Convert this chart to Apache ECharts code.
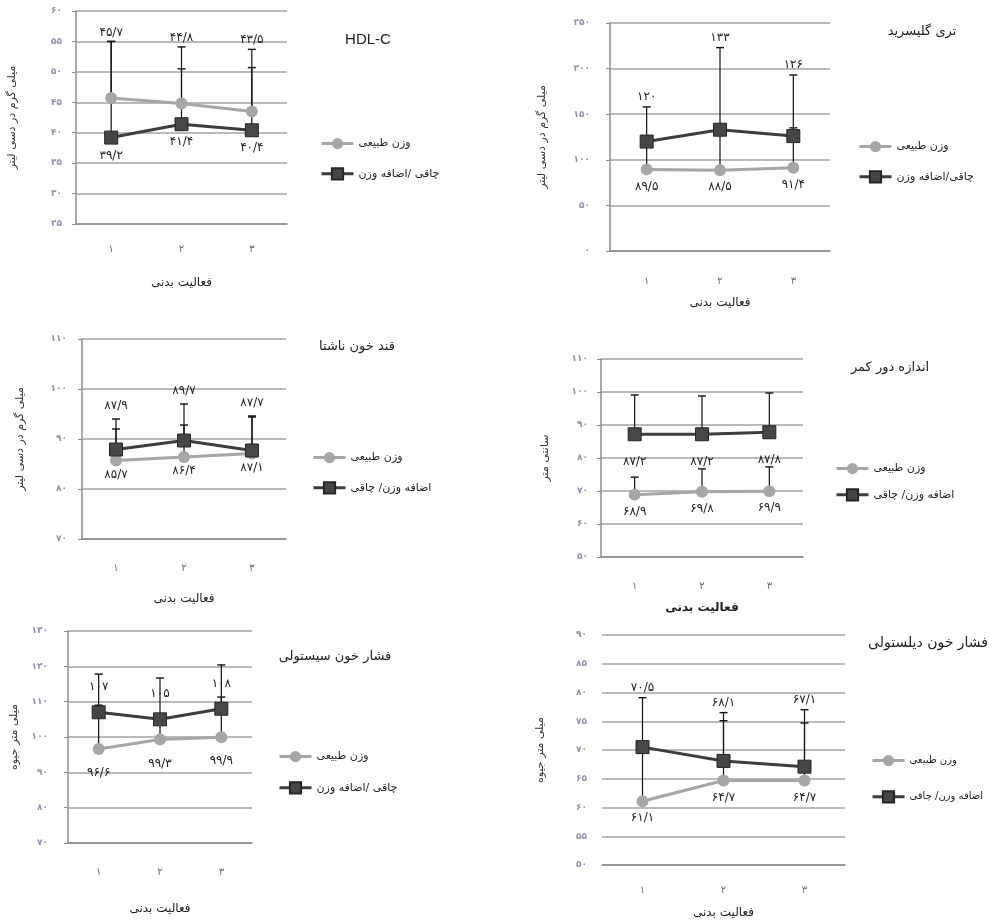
<!doctype html>
<html>
<head>
<meta charset="utf-8">
<title>Physical activity charts</title>
<style>
html, body { margin: 0; background: #fff; }
#main { width: 989px; height: 920px; }
</style>
</head>
<body>
<div id="main"></div>
<script src="https://cdn.jsdelivr.net/npm/echarts@6/dist/echarts.min.js"></script>
<script>
// categories (physical activity level)
var categories = ['۱', '۲', '۳'];
var normalName = 'وزن طبیعی';

// HDL-C
var hdlNormal = [45.7, 44.8, 43.5];
var hdlNormalSd = [9.3, 9.3, 10.2];
var hdlObese = [39.2, 41.4, 40.4];
var hdlObeseSd = [15.8, 9.1, 10.3];

// triglyceride
var tgNormal = [89.5, 88.5, 91.4];
var tgNormalSd = [30, 44, 43.6];
var tgObese = [120, 133, 126];
var tgObeseSd = [38, 90, 67];

// fasting blood sugar
var fbsNormal = [85.7, 86.4, 87.1];
var fbsNormalSd = [6.3, 6.4, 7.3];
var fbsObese = [87.9, 89.7, 87.7];
var fbsObeseSd = [6.1, 7.3, 6.9];

// waist
var waistNormal = [68.9, 69.8, 69.9];
var waistNormalSd = [5.3, 6.9, 7.4];
var waistObese = [87.2, 87.2, 87.8];
var waistObeseSd = [11.9, 11.6, 11.9];

// systolic
var sbpNormal = [96.6, 99.3, 99.9];
var sbpNormalSd = [12.4, 5.5, 11.4];
var sbpObese = [107, 105, 108];
var sbpObeseSd = [10.8, 11.7, 12.4];

// diastolic
var dbpNormal = [61.1, 64.7, 64.7];
var dbpNormalSd = [9.4, 10.4, 10];
var dbpObese = [70.5, 68.1, 67.1];
var dbpObeseSd = [8.6, 8.4, 9.9];

var faFont = '"DejaVu Sans", "Noto Sans", sans-serif';

function toFa(v) {
    return String(v).replace('.', '/').replace(/[0-9]/g, function (d) {
        return '۰۱۲۳۴۵۶۷۸۹'.charAt(+d);
    });
}

var panels = [
    {
        title: 'HDL-C', titleX: 368, titleY: 40, titleFont: '15px "Liberation Sans", sans-serif',
        normal: hdlNormal, normalSd: hdlNormalSd, obese: hdlObese, obeseSd: hdlObeseSd,
        obeseName: 'چاقی /اضافه وزن', yName: 'میلی گرم در دسی لیتر',
        min: 25, max: 60, interval: 5,
        grid: { left: 76, top: 11, width: 211, height: 213 },
        yNameGap: 58, yLabelMargin: 14, xLabelMargin: 20, xNameGap: 53,
        legendLeft: 315, legendTop: 133, legendGap: 18, legendFont: 11,
        normalLabel: ['cap', -9], obeseLabel: ['point', 18]
    },
    {
        title: 'تری گلیسرید', titleX: 922, titleY: 32, titleFont: '13px ' + faFont,
        normal: tgNormal, normalSd: tgNormalSd, obese: tgObese, obeseSd: tgObeseSd,
        obeseName: 'چاقی/اضافه وزن', yName: 'میلی گرم در دسی لیتر',
        min: 0, max: 250, interval: 50,
        grid: { left: 610, top: 23, width: 220, height: 228 },
        yNameGap: 62, yLabelMargin: 20, xLabelMargin: 25, xNameGap: 46,
        legendLeft: 853, legendTop: 136, legendGap: 18, legendFont: 11,
        normalLabel: ['point', 17], obeseLabel: ['cap', -10]
    },
    {
        title: 'قند خون ناشتا', titleX: 357, titleY: 347, titleFont: '13px ' + faFont,
        normal: fbsNormal, normalSd: fbsNormalSd, obese: fbsObese, obeseSd: fbsObeseSd,
        obeseName: 'اضافه وزن/ چاقی', yName: 'میلی گرم در دسی لیتر',
        min: 70, max: 110, interval: 10,
        grid: { left: 82, top: 339, width: 204, height: 200 },
        yNameGap: 56, yLabelMargin: 15, xLabelMargin: 24, xNameGap: 54,
        legendLeft: 307, legendTop: 447, legendGap: 18, legendFont: 11,
        normalLabel: ['point', 14], obeseLabel: ['cap', -13]
    },
    {
        title: 'اندازه دور کمر', titleX: 890, titleY: 368, titleFont: '13px ' + faFont,
        normal: waistNormal, normalSd: waistNormalSd, obese: waistObese, obeseSd: waistObeseSd,
        obeseName: 'اضافه وزن/ چاقی', yName: 'سانتی متر',
        min: 50, max: 110, interval: 10,
        grid: { left: 601, top: 359, width: 202, height: 198 },
        yNameGap: 50, yLabelMargin: 13, xLabelMargin: 24, xNameGap: 45, xNameBold: true,
        legendLeft: 830, legendTop: 458, legendGap: 14, legendFont: 11,
        normalLabel: ['point', 17], obeseLabel: ['point', 28]
    },
    {
        title: 'فشار خون سیستولی', titleX: 335, titleY: 657, titleFont: '13px ' + faFont,
        normal: sbpNormal, normalSd: sbpNormalSd, obese: sbpObese, obeseSd: sbpObeseSd,
        obeseName: 'چاقی /اضافه وزن', yName: 'میلی متر جیوه',
        min: 70, max: 130, interval: 10,
        grid: { left: 68, top: 631, width: 184, height: 212 },
        yNameGap: 48, yLabelMargin: 20, xLabelMargin: 24, xNameGap: 60,
        legendLeft: 273, legendTop: 746, legendGap: 19, legendFont: 11,
        normalLabel: ['point', 24], obeseLabel: ['point', -25]
    },
    {
        title: 'فشار خون دیلستولی', titleX: 928, titleY: 643, titleFont: '14px ' + faFont,
        normal: dbpNormal, normalSd: dbpNormalSd, obese: dbpObese, obeseSd: dbpObeseSd,
        obeseName: 'اضافه وزن/ چاقی', yName: 'میلی متر جیوه',
        min: 50, max: 90, interval: 5, noYLine: true,
        grid: { left: 602, top: 635, width: 243, height: 231 },
        yNameGap: 56, yLabelMargin: 15, xLabelMargin: 20, xNameGap: 42,
        legendLeft: 866, legendTop: 750, legendGap: 24, legendFont: 10,
        normalLabel: ['point', 17], obeseLabel: ['cap', -10]
    }
];

function errorRenderer(values, mode, dy) {
    return function (params, api) {
        var i = api.value(0), v = api.value(1), sd = api.value(2);
        var p = api.coord([i, v]);
        var t = api.coord([i, v + sd]);
        var ly = (mode === 'cap' ? t[1] : p[1]) + dy;
        return {
            type: 'group',
            children: [
                { type: 'line', shape: { x1: p[0], y1: p[1], x2: t[0], y2: t[1] }, style: { stroke: '#111', lineWidth: 1.2 } },
                { type: 'line', shape: { x1: t[0] - 4, y1: t[1], x2: t[0] + 4, y2: t[1] }, style: { stroke: '#111', lineWidth: 1.4 } },
                {
                    type: 'text',
                    style: {
                        x: p[0], y: ly, text: toFa(values[params.dataIndex]),
                        fill: '#222', font: '12px ' + faFont, align: 'center', verticalAlign: 'middle'
                    }
                }
            ]
        };
    };
}

function errData(values, sd) {
    return values.map(function (v, i) { return [i, v, sd[i]]; });
}

var grids = [], xAxes = [], yAxes = [], series = [], legends = [], texts = [];

panels.forEach(function (p, k) {
    grids.push(p.grid);
    xAxes.push({
        type: 'category', gridIndex: k, data: categories, boundaryGap: true,
        axisLine: { lineStyle: { color: '#8c8c8c', width: 1.5 } },
        axisTick: { length: 6, lineStyle: { color: '#8c8c8c', width: 1.2 } },
        axisLabel: { margin: p.xLabelMargin, color: '#7a6a5a', fontSize: 10, fontFamily: faFont },
        name: 'فعالیت بدنی', nameLocation: 'middle', nameGap: p.xNameGap,
        nameTextStyle: {
            color: '#222', fontFamily: faFont,
            fontSize: 12, fontWeight: p.xNameBold ? 'bold' : 'normal'
        }
    });
    yAxes.push({
        type: 'value', gridIndex: k, min: p.min, max: p.max, interval: p.interval,
        axisLine: { show: !p.noYLine, lineStyle: { color: '#8c8c8c', width: 1.5 } },
        axisTick: { show: !p.noYLine, length: 4, lineStyle: { color: '#8c8c8c' } },
        splitLine: { lineStyle: { color: '#a3a3a3', width: 1.5 } },
        axisLabel: {
            margin: p.yLabelMargin, color: '#8c92aa', fontSize: 9, fontWeight: 'bold',
            fontFamily: faFont, formatter: toFa
        },
        name: p.yName, nameLocation: 'middle', nameGap: p.yNameGap, nameRotate: 90,
        nameTextStyle: { color: '#333', fontSize: 11, fontFamily: faFont }
    });

    series.push({
        type: 'custom', name: 'err-n-' + k, xAxisIndex: k, yAxisIndex: k, z: 2,
        renderItem: errorRenderer(p.normal, p.normalLabel[0], p.normalLabel[1]),
        data: errData(p.normal, p.normalSd)
    });
    series.push({
        type: 'custom', name: 'err-o-' + k, xAxisIndex: k, yAxisIndex: k, z: 2,
        renderItem: errorRenderer(p.obese, p.obeseLabel[0], p.obeseLabel[1]),
        data: errData(p.obese, p.obeseSd)
    });
    series.push({
        type: 'line', name: normalName, xAxisIndex: k, yAxisIndex: k, z: 3,
        data: p.normal, symbol: 'circle', symbolSize: 12,
        lineStyle: { color: '#a6a6a6', width: 3 },
        itemStyle: { color: '#a6a6a6' },
        emphasis: { disabled: true }
    });
    series.push({
        type: 'line', name: p.obeseName, xAxisIndex: k, yAxisIndex: k, z: 4,
        data: p.obese, symbol: 'rect', symbolSize: 13,
        lineStyle: { color: '#3d3d3d', width: 3 },
        itemStyle: { color: '#464646', borderColor: '#262626', borderWidth: 1 },
        emphasis: { disabled: true }
    });

    legends.push({
        data: [normalName, p.obeseName], orient: 'vertical',
        left: p.legendLeft, top: p.legendTop, itemGap: p.legendGap,
        itemWidth: 32, itemHeight: 14, selectedMode: false,
        lineStyle: { width: 3 },
        textStyle: { color: '#222', fontSize: p.legendFont, fontFamily: faFont }
    });

    texts.push({
        type: 'text',
        style: {
            x: p.titleX, y: p.titleY, text: p.title, fill: '#222', font: p.titleFont,
            align: 'center', verticalAlign: 'middle'
        }
    });
});

var chart = echarts.init(document.getElementById('main'));
chart.setOption({
    animation: false,
    backgroundColor: '#fff',
    grid: grids,
    xAxis: xAxes,
    yAxis: yAxes,
    legend: legends,
    graphic: texts,
    series: series
});
</script>
</body>
</html>
